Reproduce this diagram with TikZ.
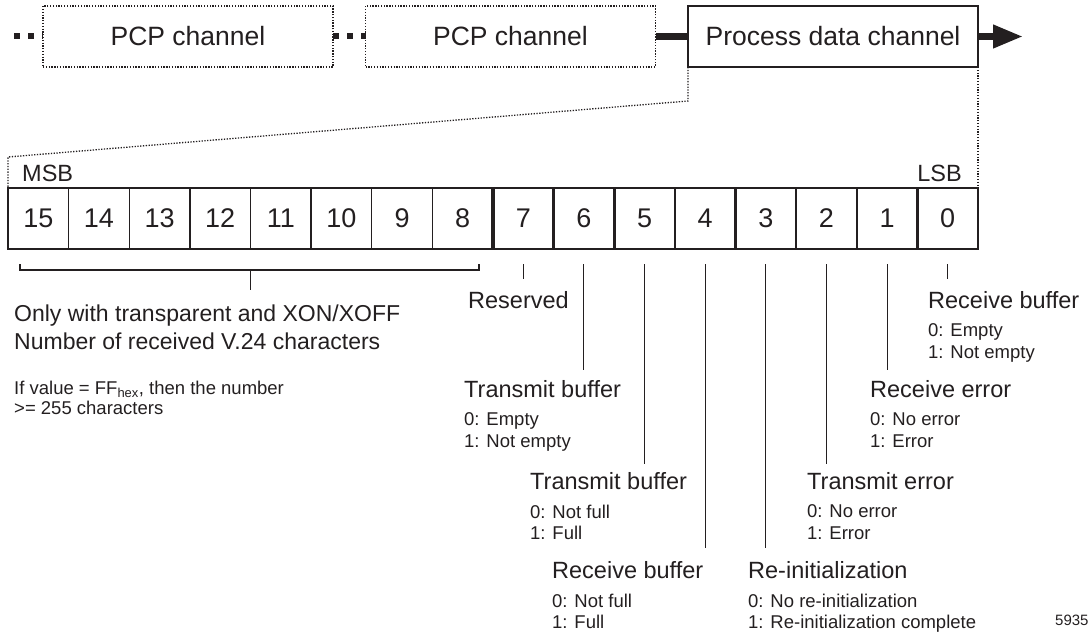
\documentclass[tikz,border=0pt]{standalone}
\usepackage{fontspec}
\setmainfont{Liberation Sans}
\usetikzlibrary{positioning,arrows.meta,calc}
\definecolor{ink}{HTML}{231F20}

\begin{document}
\begin{tikzpicture}[x=1pt,y=1pt,color=ink,
                    chan/.style={minimum width=290pt,minimum height=61pt,inner sep=0pt,
                                 outer sep=0pt,font=\fontsize{26.5}{30}\selectfont},
                    pcp/.style={chan,draw,line width=1.3pt,dash pattern=on 1.3pt off 1.5pt},
                    proc/.style={chan,draw,line width=1.6pt},
                    bit/.style={draw,line width=1.3pt,minimum width=60.625pt,minimum height=61pt,
                                inner sep=0pt,outer sep=0pt,font=\fontsize{27}{30}\selectfont},
                    title/.style={inner sep=0pt,anchor=base west,font=\fontsize{23.5}{28}\selectfont},
                    vals/.style={inner sep=0pt,anchor=north west,align=left,
                                 font=\fontsize{18.5}{21.5}\selectfont},
                    tick/.style={line width=1.1pt},
                    dots/.style={line width=1.3pt,dash pattern=on 1.3pt off 1.5pt},
                    squares/.style={line width=6pt,dash pattern=on 6pt off 8pt},
                    sep/.style={line width=2.5pt}]

  \useasboundingbox (0,0) rectangle (1092,633);

  % channels
  \node[pcp]  (pcpA) at (188,596.5)      {PCP channel};
  \node[pcp]  (pcpB) [right=32.5pt of pcpA] {PCP channel};
  \node[proc] (proc) [right=32.5pt of pcpB] {Process data channel};
  \coordinate (lead) at (14,596.5);
  \coordinate (out)  at (1023,596.5);

  \draw[squares] (lead) -- (pcpA.west);
  \draw[squares] (pcpA.east) -- (pcpB.west);
  \draw[line width=7pt] (pcpB.east) -- (proc.west);
  \draw[line width=7pt,-{Triangle[length=30pt,width=22pt]}] (proc.east) -- (out);

  % process data word
  \node[bit] (b15) at (38.3125,414.5) {15};
  \node[bit] (b14) [right=0pt of b15] {14};
  \node[bit] (b13) [right=0pt of b14] {13};
  \node[bit] (b12) [right=0pt of b13] {12};
  \node[bit] (b11) [right=0pt of b12] {11};
  \node[bit] (b10) [right=0pt of b11] {10};
  \node[bit] (b9)  [right=0pt of b10] {9};
  \node[bit] (b8)  [right=0pt of b9]  {8};
  \node[bit] (b7)  [right=0pt of b8]  {7};
  \node[bit] (b6)  [right=0pt of b7]  {6};
  \node[bit] (b5)  [right=0pt of b6]  {5};
  \node[bit] (b4)  [right=0pt of b5]  {4};
  \node[bit] (b3)  [right=0pt of b4]  {3};
  \node[bit] (b2)  [right=0pt of b3]  {2};
  \node[bit] (b1)  [right=0pt of b2]  {1};
  \node[bit] (b0)  [right=0pt of b1]  {0};

  \draw[line width=3.3pt] (b7.north west) -- (b7.south west);
  \draw[sep] (b6.north west) -- (b6.south west)
             (b5.north west) -- (b5.south west)
             (b4.north west) -- (b4.south west)
             (b3.north west) -- (b3.south west)
             (b2.north west) -- (b2.south west)
             (b1.north west) -- (b1.south west)
             (b0.north west) -- (b0.south west);

  \node[title] (msb) at ([xshift=14pt,yshift=6pt]b15.north west) {MSB};
  \node[title,anchor=base east] (lsb) at ([xshift=-16pt,yshift=6pt]b0.north east) {LSB};

  % zoom from the channel
  \coordinate (kneeR) at ([yshift=-34pt]proc.south west);
  \coordinate (kneeL) at ([yshift=31pt]b15.north west);
  \draw[dots] (proc.south west) -- (kneeR) -- (kneeL) -- (b15.north west);
  \draw[dots] (proc.south east) -- (b0.north east);

  % high byte
  \node[title,align=left,anchor=north west,font=\fontsize{23}{28}\selectfont] (info) at (14,328)
    {Only with transparent and XON/XOFF\\Number of received V.24 characters};
  \node[vals,font=\fontsize{18.5}{20}\selectfont] (note) at (14,252.5)
    {If value = FF\textsubscript{hex}, then the number\\>= 255 characters};
  \coordinate (brL) at ([xshift=12pt,yshift=-15pt]b15.south west);
  \coordinate (brR) at ([xshift=-14pt,yshift=-15pt]b8.south east);
  \draw[tick,line width=1.3pt] (brL) -- ++(0,-6) -| (brR);
  \draw[tick,line width=1.3pt] ([yshift=-21pt]b12.south east)
    -- ($(b12.south east |- info.north)+(0,15pt)$);

  % low byte
  \node[title] (t7) at (468,325) {Reserved};
  \node[title] (t6) at (464,236) {Transmit buffer};
  \node[title] (t5) at (530,144) {Transmit buffer};
  \node[title] (t4) at (552,55)  {Receive buffer};
  \node[title] (t3) at (748,55)  {Re-initialization};
  \node[title] (t2) at (807,144) {Transmit error};
  \node[title] (t1) at (870,236) {Receive error};
  \node[title] (t0) at (928,325) {Receive buffer};

  \node[vals] (v6) at ([yshift=-15.5pt]t6.base west) {0: Empty\\1: Not empty};
  \node[vals] (v5) at ([yshift=-15.5pt]t5.base west) {0: Not full\\1: Full};
  \node[vals] (v4) at ([yshift=-15.5pt]t4.base west) {0: Not full\\1: Full};
  \node[vals] (v3) at ([yshift=-15.5pt]t3.base west) {0: No re-initialization\\1: Re-initialization complete};
  \node[vals] (v2) at ([yshift=-15.5pt]t2.base west) {0: No error\\1: Error};
  \node[vals] (v1) at ([yshift=-15.5pt]t1.base west) {0: No error\\1: Error};
  \node[vals] (v0) at ([yshift=-15.5pt]t0.base west) {0: Empty\\1: Not empty};

  \draw[tick] ([yshift=-15pt]b7.south) -- ($(b7.south |- t7.north)+(0,12pt)$);
  \draw[tick] ([yshift=-15pt]b6.south) -- ($(b6.south |- t6.north)+(0,10pt)$);
  \draw[tick] ([yshift=-15pt]b5.south) -- ($(b5.south |- t5.north)+(0,8pt)$);
  \draw[tick] ([yshift=-15pt]b4.south) -- ($(b4.south |- t4.north)+(0,13pt)$);
  \draw[tick] ([yshift=-15pt]b3.south) -- ($(b3.south |- t3.north)+(0,13pt)$);
  \draw[tick] ([yshift=-15pt]b2.south) -- ($(b2.south |- t2.north)+(0,8pt)$);
  \draw[tick] ([yshift=-15pt]b1.south) -- ($(b1.south |- t1.north)+(0,10pt)$);
  \draw[tick] ([yshift=-15pt]b0.south) -- ($(b0.south |- t0.north)+(0,12pt)$);

  \node[inner sep=0pt,anchor=base west,font=\fontsize{15}{18}\selectfont] (tag) at (1055,8) {5935};
\end{tikzpicture}
\end{document}
